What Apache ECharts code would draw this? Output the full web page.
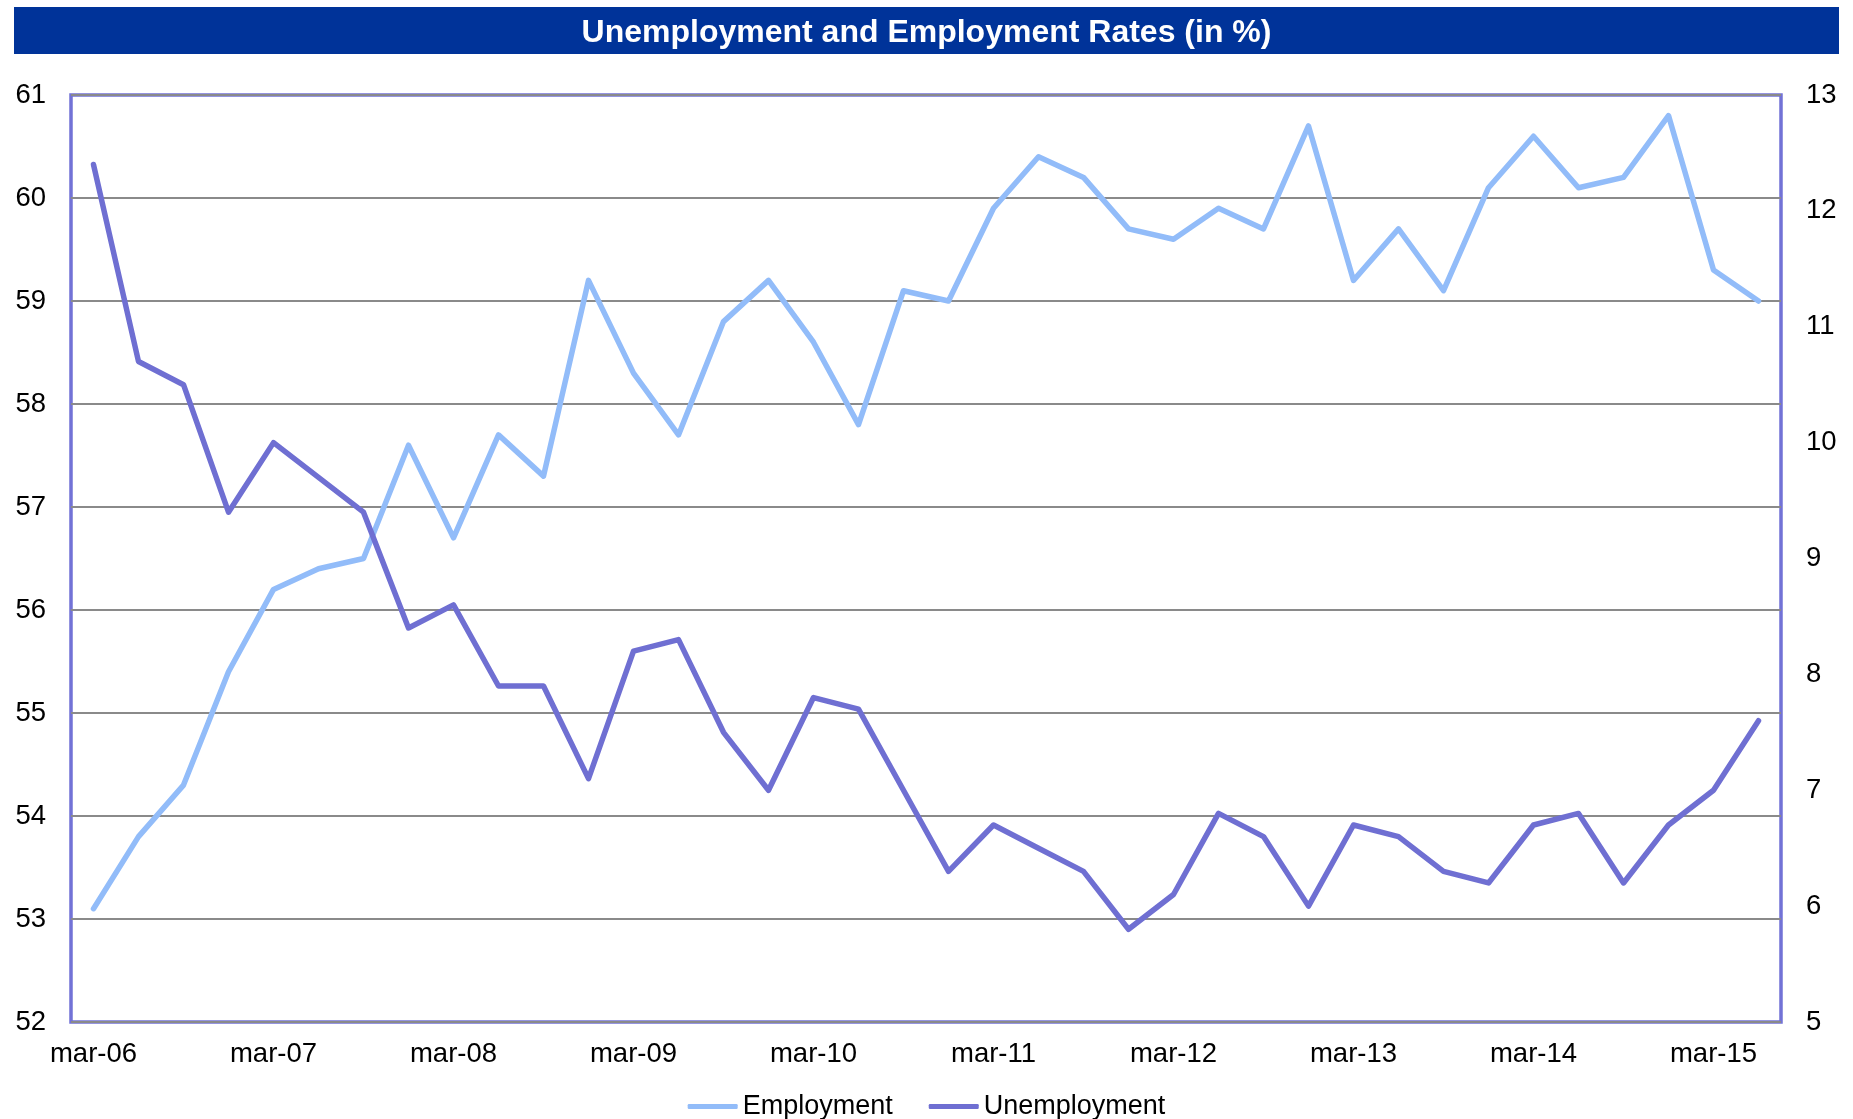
<!DOCTYPE html>
<html>
<head>
<meta charset="utf-8">
<title>Unemployment and Employment Rates (in %)</title>
<script src="https://cdn.jsdelivr.net/npm/echarts@6/dist/echarts.min.js"></script>
<style>
  html, body { margin: 0; padding: 0; background: #ffffff; }
  #chart { width: 1853px; height: 1119px; }
</style>
</head>
<body>
<div id="chart"></div>
<script>
// Quarterly observations, March 2006 to June 2015
const quarters = [
  'mar-06','jun-06','sep-06','dec-06',
  'mar-07','jun-07','sep-07','dec-07',
  'mar-08','jun-08','sep-08','dec-08',
  'mar-09','jun-09','sep-09','dec-09',
  'mar-10','jun-10','sep-10','dec-10',
  'mar-11','jun-11','sep-11','dec-11',
  'mar-12','jun-12','sep-12','dec-12',
  'mar-13','jun-13','sep-13','dec-13',
  'mar-14','jun-14','sep-14','dec-14',
  'mar-15','jun-15'
];

// Employment rate, % (left axis)
const employment = [
  53.1, 53.8, 54.3, 55.4,
  56.2, 56.4, 56.5, 57.6,
  56.7, 57.7, 57.3, 59.2,
  58.3, 57.7, 58.8, 59.2,
  58.6, 57.8, 59.1, 59.0,
  59.9, 60.4, 60.2, 59.7,
  59.6, 59.9, 59.7, 60.7,
  59.2, 59.7, 59.1, 60.1,
  60.6, 60.1, 60.2, 60.8,
  59.3, 59.0
];

// Unemployment rate, % (right axis)
const unemployment = [
  12.4, 10.7, 10.5, 9.4,
  10.0, 9.7, 9.4, 8.4,
  8.6, 7.9, 7.9, 7.1,
  8.2, 8.3, 7.5, 7.0,
  7.8, 7.7, 7.0, 6.3,
  6.7, 6.5, 6.3, 5.8,
  6.1, 6.8, 6.6, 6.0,
  6.7, 6.6, 6.3, 6.2,
  6.7, 6.8, 6.2, 6.7,
  7.0, 7.6
];

// Axis ranges
const leftAxisRange = { min: 52, max: 61, step: 1 };
const rightAxisRange = { min: 5, max: 13, step: 1 };

const FONT = '"Liberation Sans", Arial, sans-serif';
const FRAME = '#7272d6';
const EMP_COLOR = '#92bcf9';
const UNEMP_COLOR = '#6f6fd2';

const chart = echarts.init(document.getElementById('chart'), null, { renderer: 'canvas' });

chart.setOption({
  backgroundColor: '#ffffff',
  animation: false,
  graphic: [{
    type: 'rect',
    left: 14, top: 7, z: 0,
    shape: { width: 1825, height: 47 },
    style: { fill: '#003399' }
  }],
  title: {
    text: 'Unemployment and Employment Rates (in %)',
    left: 'center',
    top: 10,
    padding: 0,
    z: 10,
    textStyle: {
      color: '#ffffff',
      fontFamily: FONT,
      fontWeight: 'bold',
      fontSize: 32,
      lineHeight: 47
    }
  },
  legend: {
    top: 1088,
    left: 'center',
    icon: 'roundRect',
    itemWidth: 50,
    itemHeight: 5,
    itemGap: 36,
    textStyle: { fontFamily: FONT, fontSize: 27, color: '#000000' },
    data: [
      { name: 'Employment', itemStyle: { color: EMP_COLOR } },
      { name: 'Unemployment', itemStyle: { color: UNEMP_COLOR } }
    ]
  },
  grid: {
    left: 71, right: 72, top: 95, bottom: 97,
    show: true,
    borderColor: FRAME,
    borderWidth: 3.5,
    containLabel: false
  },
  xAxis: {
    type: 'category',
    data: quarters,
    boundaryGap: true,
    axisLine: { show: false },
    axisTick: { show: false },
    axisLabel: {
      interval: 3,
      margin: 18,
      fontFamily: FONT,
      fontSize: 27.5,
      color: '#000000'
    },
    splitLine: { show: false }
  },
  yAxis: [{
    type: 'value',
    position: 'left',
    min: leftAxisRange.min,
    max: leftAxisRange.max,
    interval: leftAxisRange.step,
    axisLine: { show: false },
    axisTick: { show: false },
    axisLabel: { margin: 25, fontFamily: FONT, fontSize: 27.5, color: '#000000' },
    splitLine: { show: true, lineStyle: { color: '#8a8a8a', width: 2 } }
  }, {
    type: 'value',
    position: 'right',
    min: rightAxisRange.min,
    max: rightAxisRange.max,
    interval: rightAxisRange.step,
    axisLine: { show: false },
    axisTick: { show: false },
    axisLabel: { margin: 25, fontFamily: FONT, fontSize: 27.5, color: '#000000' },
    splitLine: { show: false }
  }],
  series: [{
    name: 'Employment',
    type: 'line',
    yAxisIndex: 0,
    data: employment,
    symbol: 'none',
    showSymbol: false,
    color: EMP_COLOR,
    lineStyle: { color: EMP_COLOR, width: 5.5, cap: 'round', join: 'round' },
    z: 3
  }, {
    name: 'Unemployment',
    type: 'line',
    yAxisIndex: 1,
    data: unemployment,
    symbol: 'none',
    showSymbol: false,
    color: UNEMP_COLOR,
    lineStyle: { color: UNEMP_COLOR, width: 5.5, cap: 'round', join: 'round' },
    z: 4
  }]
});
</script>
</body>
</html>
